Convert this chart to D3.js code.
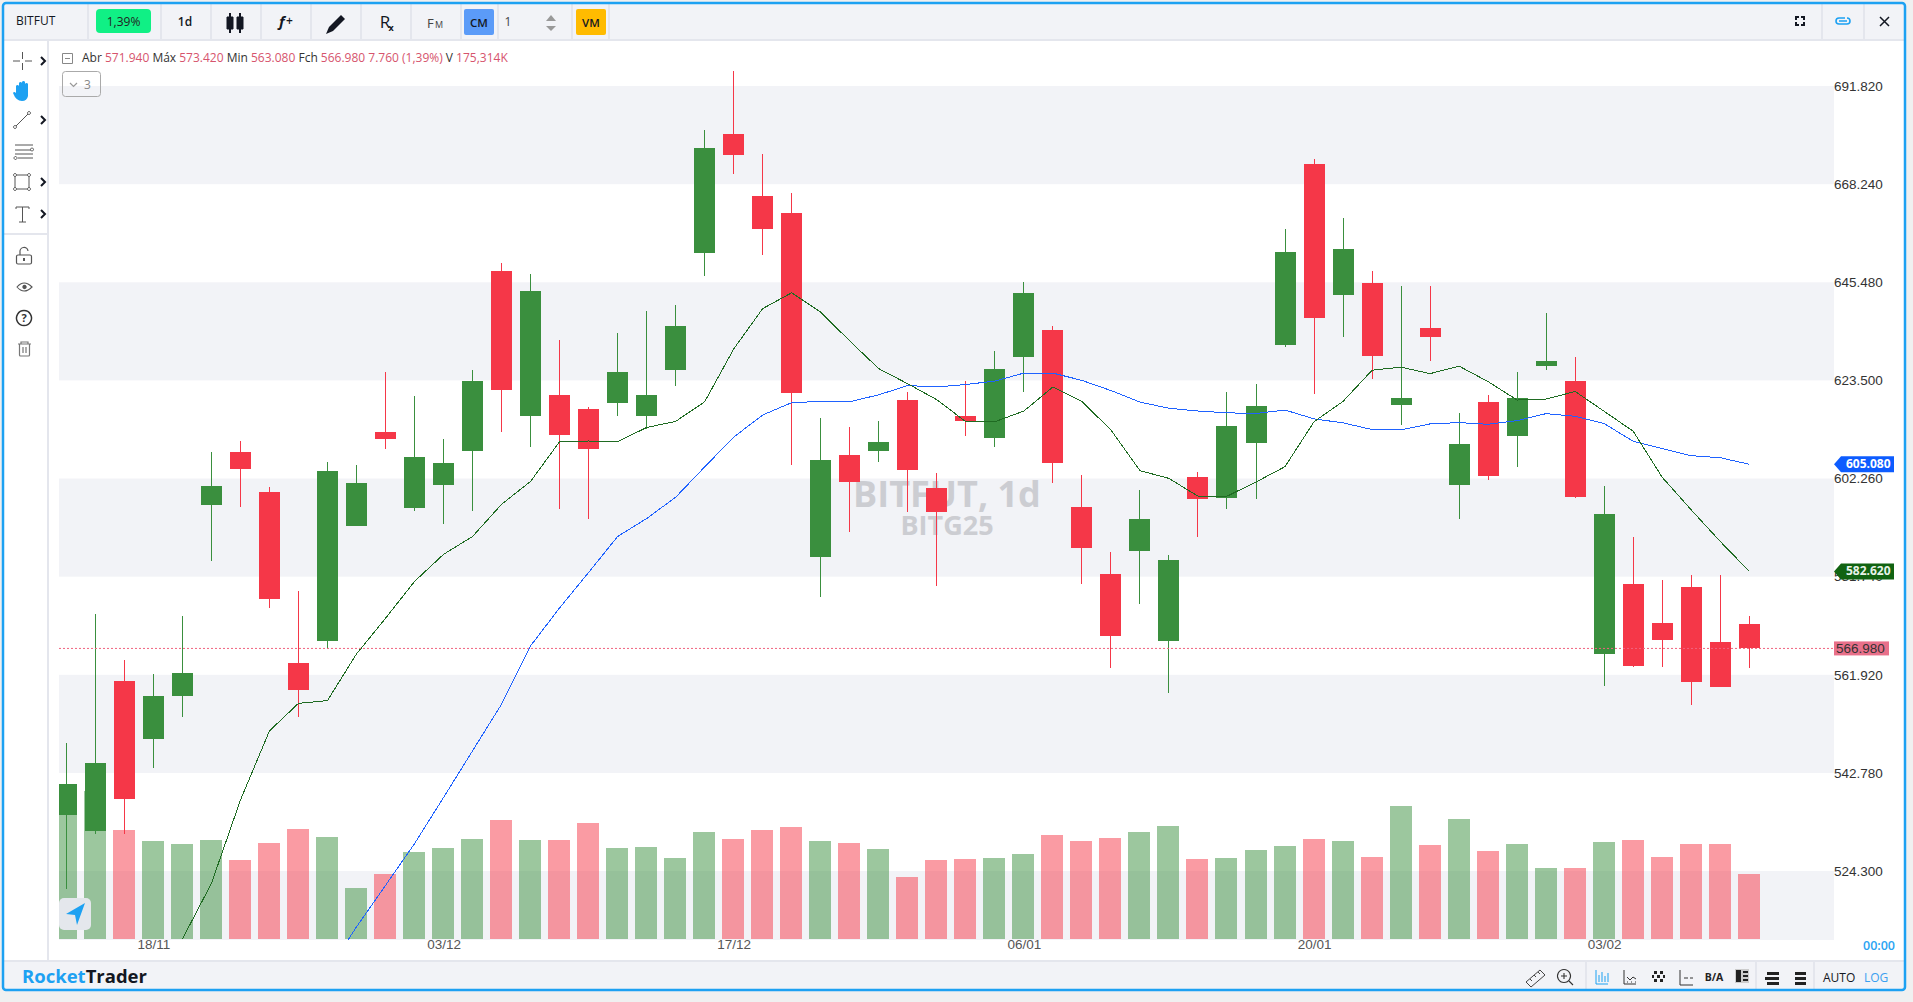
<!DOCTYPE html>
<html>
<head>
<meta charset="utf-8">
<title>BITFUT</title>
<script src="https://cdn.jsdelivr.net/npm/d3@7"></script>
<style>
  html, body { margin: 0; padding: 0; background: #f0f0f0; overflow: hidden; }
  svg { display: block; }
  text { font-family: "Open Sans", sans-serif; }
  .axis text { font-family: "Liberation Sans", Arial, sans-serif; font-size: 13.5px; }
</style>
</head>
<body>
<div id="chart"></div>
<script>
const categories = ["13/11","14/11","15/11","18/11","19/11","20/11","21/11","22/11","25/11","26/11",
  "27/11","29/11","02/12","03/12","04/12","05/12","06/12","09/12","10/12","11/12",
  "12/12","13/12","16/12","17/12","18/12","19/12","20/12","23/12","24/12","26/12",
  "27/12","30/12","31/12","06/01","07/01","08/01","09/01","10/01","13/01","14/01",
  "15/01","16/01","17/01","20/01","21/01","22/01","23/01","24/01","27/01","28/01",
  "29/01","30/01","31/01","03/02","04/02","05/02","06/02","07/02","10/02"];
const opens = [534.62,531.65,560.49,549.22,557.54,596.47,607.74,599.20,564.11,568.50,
  592.09,611.94,595.90,600.69,608.00,647.84,615.40,620.12,617.11,618.41,
  615.55,625.61,652.05,680.06,665.23,661.33,585.67,607.03,607.98,619.04,
  600.08,615.55,610.62,628.50,634.56,596.07,582.10,586.87,568.50,602.35,
  597.99,609.54,631.21,672.85,642.40,645.09,617.96,635.01,600.69,618.61,
  611.25,626.48,623.15,565.91,580.04,572.17,579.44,568.33,571.94];
const highs = [548.45,574.01,564.66,561.87,573.60,607.74,610.14,600.27,578.63,605.60,
  605.00,625.18,619.91,610.57,625.63,649.73,647.18,632.33,617.50,633.69,
  638.80,640.16,681.00,695.16,675.20,665.97,614.95,613.00,614.47,620.75,
  603.26,623.13,629.84,645.29,635.44,602.80,586.65,599.64,586.05,603.43,
  620.75,622.53,657.62,674.05,660.03,647.86,644.42,644.42,616.23,620.12,
  625.16,638.37,628.53,600.48,589.81,580.85,581.86,581.86,573.42];
const lows = [520.73,531.05,531.05,543.44,553.47,584.81,596.07,575.20,553.47,566.82,
  592.09,608.40,595.23,592.51,595.23,612.09,608.76,595.69,593.57,615.40,
  612.63,622.05,646.67,670.45,651.57,604.97,577.46,590.75,605.51,595.02,
  579.62,611.22,608.84,620.75,601.13,580.06,563.10,576.03,558.19,589.79,
  595.69,597.78,630.74,620.36,632.98,623.59,613.63,627.60,593.58,601.74,
  604.53,625.59,597.97,559.51,563.28,563.28,555.83,559.22,563.08];
const closes = [540.52,544.52,537.67,557.54,562.10,600.44,604.06,577.04,558.79,603.58,
  601.11,610.57,606.72,605.42,623.15,621.21,643.27,611.46,608.45,625.14,
  620.12,635.44,676.70,674.99,657.62,620.58,606.05,601.21,609.93,603.88,
  595.02,614.47,625.86,642.87,605.42,587.53,569.53,593.60,585.00,597.78,
  613.39,617.72,652.24,637.12,652.96,628.75,619.47,632.98,609.51,602.59,
  619.47,627.60,598.18,594.62,563.48,568.74,560.31,559.22,566.98];
// volume in thousands
const volumes = [337,400,294,264,256,267,213,259,297,275,
  138,175,235,245,270,321,267,267,313,245,
  248,218,289,270,294,302,264,259,243,167,
  213,216,218,229,280,264,272,289,305,216,
  218,240,251,270,264,221,359,254,324,237,
  256,191,191,262,267,221,256,256,175.3];
const maFast = [null,null,null,null,511.67,521.81,537.39,550.70,556.08,556.63,
  565.87,573.04,580.55,586.13,589.85,596.59,601.44,609.93,610.08,609.93,
  613.00,614.32,618.59,630.24,639.29,642.87,638.48,632.01,625.86,622.53,
  619.04,614.25,614.25,616.57,621.83,618.65,612.46,603.73,602.07,598.30,
  598.30,601.30,604.58,614.25,618.67,625.53,626.20,624.77,626.42,623.00,
  618.97,619.19,620.84,616.50,612.18,602.30,595.40,588.80,582.62];
const maSlow = [null,null,null,null,null,null,null,null,null,505.80,
  513.87,521.45,529.20,537.90,546.84,555.92,567.50,575.15,582.39,589.85,
  593.60,598.08,604.52,610.92,615.71,618.41,618.65,618.60,620.12,622.14,
  621.83,622.37,623.13,624.89,624.89,623.28,621.05,618.52,617.18,616.57,
  616.18,616.03,616.79,614.86,614.00,612.55,612.48,613.78,614.06,613.69,
  614.49,616.01,615.42,613.84,610.01,608.43,606.92,606.49,605.08];
const priceTicks = [691.82,668.24,645.48,623.50,602.26,581.74,561.92,542.78,524.30];
const dateTicks = ["18/11","03/12","17/12","06/01","20/01","03/02"];
const legendParts = [["Abr ",0],["571.940 ",1],["Máx ",0],["573.420 ",1],["Min ",0],["563.080 ",1],
  ["Fch ",0],["566.980 7.760 (1,39%) ",1],["V ",0],["175,314K",1]];

const width = 1913, height = 1002;
const green = "#3a8f3e", red = "#f53748";
const toolbarBg = "#f2f3f7", lineCol = "#e4e6ed", blue = "#1da1f2";

const svg = d3.select("#chart").append("svg").attr("width", width).attr("height", height);

const x = d3.scalePoint().domain(categories).range([66.3, 1749.3]);
const y = d3.scaleLog().domain([691.82, 524.30]).range([86, 871]);
const yVol = d3.scaleLinear().domain([0, 400]).range([939, 790.7]);

// panel
svg.append("rect").attr("x", 3).attr("y", 3).attr("width", 1902).attr("height", 987)
  .attr("rx", 3).attr("fill", "#fff");

// alternating bands
const bandEdges = priceTicks.map(t => y(t)).concat([940]);
const bandRows = d3.range(0, bandEdges.length - 1, 2);
svg.append("g").selectAll("rect").data(bandRows).enter().append("rect")
  .attr("x", 59).attr("width", 1775)
  .attr("y", i => bandEdges[i])
  .attr("height", i => bandEdges[i + 1] - bandEdges[i])
  .attr("fill", toolbarBg);

// watermark
svg.append("text").attr("x", 947).attr("y", 507).attr("text-anchor", "middle")
  .attr("font-size", 36).attr("font-weight", 700).attr("fill", "#cccdd2").text("BITFUT, 1d");
svg.append("text").attr("x", 947).attr("y", 535).attr("text-anchor", "middle")
  .attr("font-size", 27).attr("font-weight", 700).attr("fill", "#cccdd2").text("BITG25");

svg.append("defs").append("clipPath").attr("id", "plot").append("rect")
  .attr("x", 59).attr("y", 41).attr("width", 1775).attr("height", 899);

const plot = svg.append("g").attr("clip-path", "url(#plot)");
const marks = plot.append("g").attr("transform", "translate(0,-1)");
const px = i => Math.floor(x(categories[i]));
const isDown = i => closes[i] < opens[i];

// volume
plot.append("g").attr("shape-rendering", "crispEdges").selectAll("rect").data(categories).enter().append("rect")
  .attr("x", (d, i) => px(i) - 11)
  .attr("width", 22)
  .attr("y", (d, i) => yVol(volumes[i]))
  .attr("height", (d, i) => yVol(0) - yVol(volumes[i]))
  .attr("fill", (d, i) => isDown(i) ? red : green)
  .attr("fill-opacity", 0.5);

marks.raise();

// candles
const candle = marks.append("g").attr("shape-rendering", "crispEdges")
  .selectAll("g").data(categories).enter().append("g")
  .attr("fill", (d, i) => isDown(i) ? red : green);
candle.append("rect")
  .attr("x", (d, i) => px(i))
  .attr("width", 1)
  .attr("y", (d, i) => y(highs[i]))
  .attr("height", (d, i) => y(lows[i]) - y(highs[i]));
candle.append("rect")
  .attr("x", (d, i) => px(i) - 10)
  .attr("width", 21)
  .attr("y", (d, i) => y(Math.max(opens[i], closes[i])))
  .attr("height", (d, i) => Math.abs(y(opens[i]) - y(closes[i])));

// moving averages
const maLine = d3.line()
  .defined(d => d !== null)
  .x((d, i) => x(categories[i]))
  .y(d => y(d));
marks.append("path").attr("d", maLine(maSlow)).attr("fill", "none").attr("stroke", "#1f62ff")
  .attr("stroke-width", 1).attr("shape-rendering", "crispEdges");
marks.append("path").attr("d", maLine(maFast)).attr("fill", "none").attr("stroke", "#1f6b22")
  .attr("stroke-width", 1).attr("shape-rendering", "crispEdges");

// last price line
const lastClose = closes[closes.length - 1];
marks.append("line").attr("x1", 59).attr("x2", 1834)
  .attr("y1", y(lastClose)).attr("y2", y(lastClose))
  .attr("stroke", "#f0637f").attr("stroke-width", 1).attr("stroke-dasharray", "2 2");

// axes
const yAxis = d3.axisRight(y).tickValues(priceTicks).tickFormat(d3.format(".3f")).tickSize(0).tickPadding(0);
svg.append("g").attr("class", "axis").attr("transform", "translate(1834,0)").call(yAxis)
  .call(g => g.select(".domain").remove())
  .call(g => g.selectAll("text").attr("fill", "#333"));
const xAxis = d3.axisBottom(x).tickValues(dateTicks).tickSize(0).tickPadding(0);
svg.append("g").attr("class", "axis").attr("transform", "translate(0,939)").call(xAxis)
  .call(g => g.select(".domain").remove())
  .call(g => g.selectAll("text").attr("fill", "#555"));
svg.append("text").attr("x", 1863).attr("y", 950).attr("font-size", 12.5).attr("font-weight", 600)
  .attr("fill", "#2aa3f3").text("00:00");

// price labels
function maTag(value, fill, textFill) {
  const cy = y(value) - 1;
  svg.append("path").attr("d", `M1834,${cy}L1841,${cy - 8}H1894V${cy + 8}H1841Z`).attr("fill", fill);
  svg.append("text").attr("x", 1846).attr("y", cy + 4).attr("font-size", 12).attr("font-weight", 700)
    .attr("fill", textFill).text(d3.format(".3f")(value));
}
maTag(maSlow[maSlow.length - 1], "#0d5cff", "#fff");
maTag(maFast[maFast.length - 1], "#116311", "#e8f3e8");
svg.append("rect").attr("x", 1834).attr("y", y(lastClose) - 8).attr("width", 55).attr("height", 14).attr("fill", "#e8708a");
svg.append("text").attr("class", "last").attr("x", 1836).attr("y", y(lastClose) + 4)
  .style("font-family", "'Liberation Sans', Arial, sans-serif").attr("font-size", 13.5).attr("fill", "#333")
  .text(d3.format(".3f")(lastClose));

// toolbars
svg.append("rect").attr("x", 4).attr("y", 4).attr("width", 1900).attr("height", 35).attr("fill", toolbarBg);
svg.append("rect").attr("x", 4).attr("y", 39).attr("width", 1900).attr("height", 2).attr("fill", lineCol);
svg.append("rect").attr("x", 4).attr("y", 960).attr("width", 1900).attr("height", 2).attr("fill", lineCol);
svg.append("rect").attr("x", 4).attr("y", 962).attr("width", 1900).attr("height", 27).attr("fill", toolbarBg);
svg.append("rect").attr("x", 47).attr("y", 41).attr("width", 2).attr("height", 919).attr("fill", lineCol);
svg.append("rect").attr("x", 4).attr("y", 233).attr("width", 43).attr("height", 2).attr("fill", lineCol);
[87, 160, 210, 260, 310, 360, 410, 460, 497, 571, 608, 1821, 1863].forEach(sx =>
  svg.append("rect").attr("x", sx).attr("y", 4).attr("width", 2).attr("height", 35).attr("fill", lineCol));
[1585, 1755, 1813].forEach(sx =>
  svg.append("rect").attr("x", sx).attr("y", 962).attr("width", 2).attr("height", 27).attr("fill", lineCol));

function label(tx, ty, str, size, fill, weight, anchor) {
  return svg.append("text").attr("x", tx).attr("y", ty).attr("font-size", size)
    .attr("fill", fill).attr("font-weight", weight || 400).attr("text-anchor", anchor || "start").text(str);
}
function icon(d, stroke, fill, sw) {
  return svg.append("path").attr("d", d).attr("stroke", stroke || "none")
    .attr("fill", fill || "none").attr("stroke-width", sw || 1);
}

label(16, 25, "BITFUT", 12, "#131722", 500);
svg.append("rect").attr("x", 96).attr("y", 9).attr("width", 55).attr("height", 24).attr("rx", 4).attr("fill", "#10f085");
label(123.5, 26, "1,39%", 12, "#222", 400, "middle");
label(185, 26, "1d", 12, "#131722", 600, "middle");
icon("M230,13V33M240,13V33", "#131722", null, 2);
icon("M227,17h6v12h-6zM237,17h6v12h-6z", "#131722", "#131722", 1);
label(279, 27, "f", 15, "#131722", 700).attr("font-style", "italic");
label(286, 25, "+", 12, "#131722", 600);
icon("M326,34L329,27L341,15L345,19L333,31Z", "none", "#131722");
label(385, 28, "R", 17, "#131722", 400, "middle");
label(391, 31, "x", 9, "#131722", 700, "middle");
label(427, 28, "F", 13, "#444", 400);
label(435, 28, "M", 9, "#444", 400);
svg.append("rect").attr("x", 464).attr("y", 9).attr("width", 30).attr("height", 26).attr("rx", 2).attr("fill", "#5b9bf8");
label(479, 27, "CM", 11.5, "#131722", 600, "middle");
label(508, 26, "1", 12, "#444", 400, "middle");
icon("M551,15L556,21H546Z", "none", "#999");
icon("M551,31L556,26H546Z", "none", "#999");
svg.append("rect").attr("x", 576).attr("y", 9).attr("width", 30).attr("height", 26).attr("rx", 2).attr("fill", "#ffbb00");
label(591, 27, "VM", 11.5, "#131722", 600, "middle");

icon("M1796,20v-3h3M1801,17h3v3M1804,22v3h-3M1799,25h-3v-3", "#131722", null, 2);
icon("M1845,18h-6a3,3 0 0 0 0,6h8a3,3 0 0 0 0,-6M1839,21h8", blue, null, 1.6);
icon("M1880,17L1889,26M1889,17L1880,26", "#131722", null, 1.5);

// legend
icon("M62.5,53.5h10v10h-10zM65,58.5h5", "#888", null, 1);
const legend = svg.append("text").attr("x", 82).attr("y", 62).attr("font-size", 12).attr("xml:space", "preserve");
legendParts.forEach(p => legend.append("tspan").attr("fill", p[1] ? "#d6546d" : "#333").text(p[0]));
svg.append("rect").attr("x", 62.5).attr("y", 71.5).attr("width", 38).attr("height", 25).attr("rx", 3)
  .attr("fill", "none").attr("stroke", "#aaa");
icon("M70,83l3.5,3.5l3.5,-3.5", "#999", null, 1.2);
label(84, 89, "3", 12, "#888");

// side tools
const ink = "#555";
icon("M13,61h7M25,61h7M22.5,52v7M22.5,63v7", ink);
[[43, 61], [43, 120], [43, 182], [43, 214]].forEach(c =>
  icon(`M${c[0] - 2},${c[1] - 4}l4,4l-4,4`, "#131722", null, 2));
icon("M16,94v-8a1.6,1.6 0 0 1 3,0v5v-8a1.6,1.6 0 0 1 3,0v8v-9a1.6,1.6 0 0 1 3,0v9v-7a1.6,1.6 0 0 1 3,0v12q-1,5 -6,5q-6,0 -9,-8q1,-2 3,0z", "none", blue);
icon("M15,127L29,113", ink);
icon("M15,125.5a1.5,1.5 0 1 0 .01,0M29,111.5a1.5,1.5 0 1 0 .01,0", ink, "#fff");
icon("M15,145H33M15,150H31M15,154H33M18,158H33", ink);
icon("M32,148a1.5,1.5 0 1 0 .01,0M15.5,156.5a1.5,1.5 0 1 0 .01,0", ink, "#fff");
icon("M15,175h14v14h-14z", ink);
icon("M15,173.5a1.5,1.5 0 1 0 .01,0M29,173.5a1.5,1.5 0 1 0 .01,0M15,187.5a1.5,1.5 0 1 0 .01,0M29,187.5a1.5,1.5 0 1 0 .01,0", ink, "#fff");
icon("M16,207h13M16,207v2M29,207v2M22.5,207v15M19,222h7", ink);
icon("M18,255h12a1.5,1.5 0 0 1 1.5,1.5v6a1.5,1.5 0 0 1 -1.5,1.5h-12a1.5,1.5 0 0 1 -1.5,-1.5v-6a1.5,1.5 0 0 1 1.5,-1.5zM20,255v-3a4,4 0 0 1 8,-1", ink, null, 1.2);
icon("M23,258h2v3h-2z", "none", ink);
icon("M17,287q7,-8 15,0q-8,8 -15,0z", ink, null, 1.1);
icon("M24.5,284.8a2.2,2.2 0 1 0 .01,0", "none", ink);
icon("M24,310.5a7.5,7.5 0 1 0 .01,0", "#333", null, 1.5);
label(24, 322, "?", 11, "#333", 700, "middle");
icon("M18,344h13M21,344v-2h7v2M19.5,344v11a1,1 0 0 0 1,1h8a1,1 0 0 0 1,-1v-11M23,347v6M26,347v6", "#777", null, 1.2);

// nav button
svg.append("rect").attr("x", 59).attr("y", 898).attr("width", 32).attr("height", 32).attr("rx", 5).attr("fill", "#e4e7ec");
icon("M85,903L66,914L75,915L77,925Z", "none", blue);

// bottom bar
const brand = svg.append("text").attr("x", 22).attr("y", 983).attr("font-size", 18.5).attr("font-weight", 700);
brand.append("tspan").attr("fill", blue).text("Rocket");
brand.append("tspan").attr("fill", "#131722").text("Trader");

icon("M1526,982L1540,970L1545,975L1531,987Z", "#444", null, 1);
icon("M1530,979l2,2M1534,975l2,2M1538,972l2,2", "#444");
icon("M1564,969.5a6.5,6.5 0 1 0 .01,0M1561,976h6M1564,973v6M1569,981l4,4", "#333", null, 1.1);
icon("M1596,970v14h12M1599,982v-7M1602,982v-10M1605,982v-6M1608,982v-9", blue, null, 1);
icon("M1624,970v14h12M1627,977l3,3l3,-3l3,2M1627,982h1M1631,982h1M1635,982h1", "#333", null, 1);
icon("M1654,971h3v3h-3zM1660,971h3v3h-3zM1657,975h3v3h-3zM1654,979h3v3h-3zM1660,979h3v3h-3zM1663,975h2v3h-2zM1652,975h2v3h-2z", "none", "#222");
icon("M1680,970v15h13M1684,978h4M1690,978h3", "#333", null, 1);
label(1714, 981, "B/A", 10.5, "#222", 700, "middle");
svg.append("rect").attr("x", 1735).attr("y", 969).attr("width", 14).attr("height", 14).attr("fill", "#ccc");
icon("M1736,970h5v12h-5zM1743,971h5v2h-5zM1743,975h5v2h-5zM1743,979h5v2h-5z", "none", "#222");
icon("M1767,972h12v3h-12zM1766,977h13v3h-13zM1767,982h12v3h-12z", "none", "#222");
icon("M1766,978.5h-1", "#222", null, 3);
icon("M1795,972h11v3h-11zM1795,977h11v3h-11zM1795,982h11v3h-11z", "none", "#222");
label(1823, 982, "AUTO", 12, "#131722", 500);
label(1864, 982, "LOG", 12, "#3a9ff0", 500);

// panel border on top of everything
svg.append("rect").attr("x", 3).attr("y", 3).attr("width", 1902).attr("height", 987)
  .attr("rx", 3).attr("fill", "none").attr("stroke", blue).attr("stroke-width", 2.5);
</script>
</body>
</html>
